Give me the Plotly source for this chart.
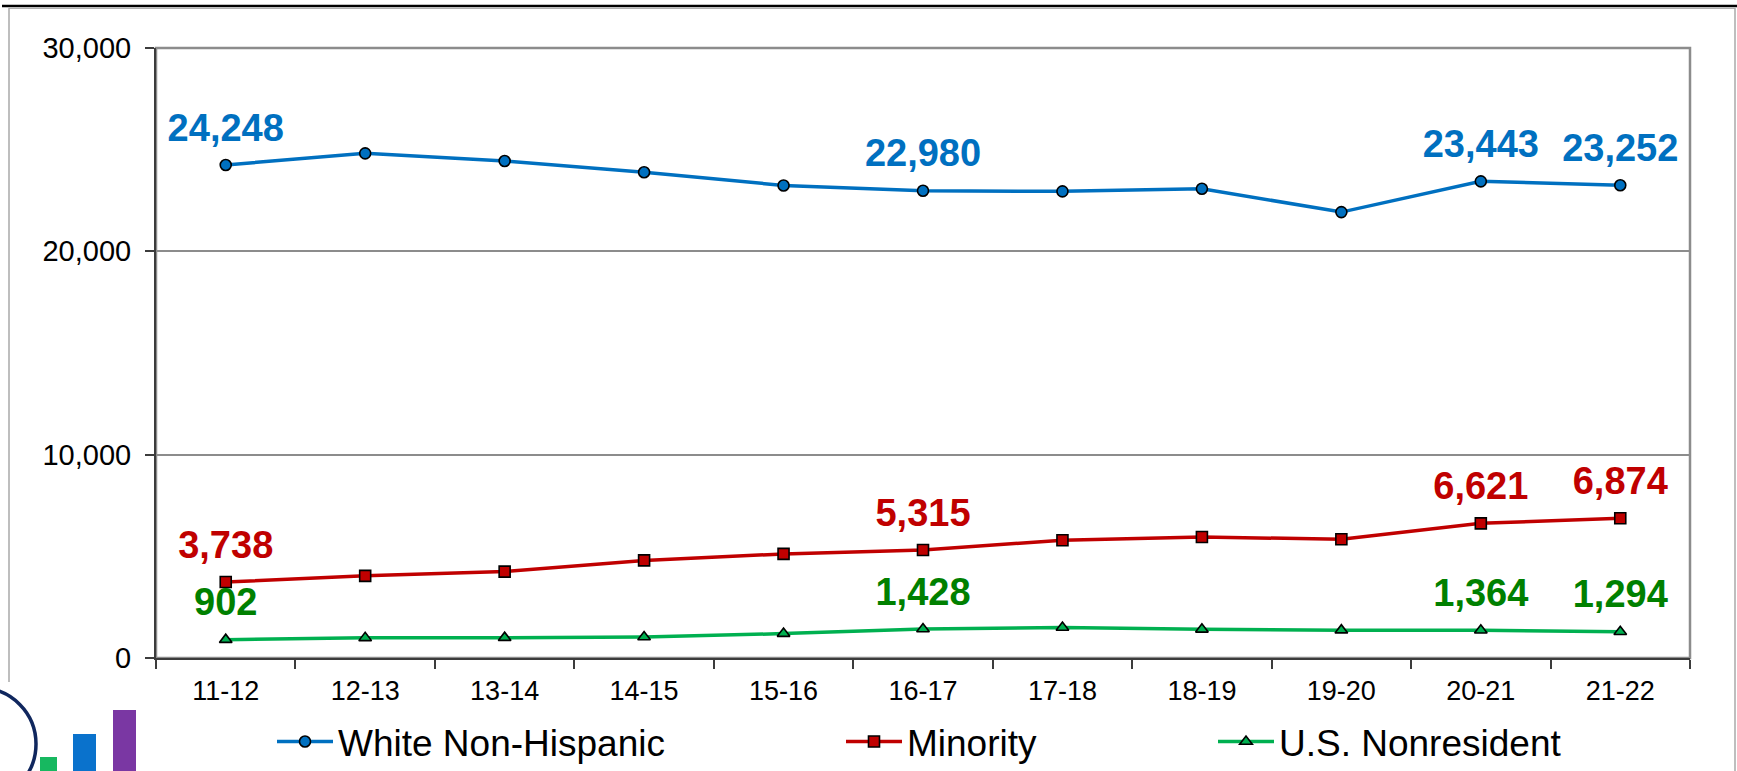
import plotly.graph_objects as go

# ---------------- data ----------------
years = ["11-12", "12-13", "13-14", "14-15", "15-16", "16-17",
         "17-18", "18-19", "19-20", "20-21", "21-22"]
white = [24248, 24820, 24440, 23890, 23240, 22980, 22950, 23080, 21930, 23443, 23252]
minority = [3738, 4040, 4250, 4800, 5120, 5315, 5790, 5950, 5840, 6621, 6874]
nonres = [902, 990, 1000, 1030, 1200, 1428, 1500, 1410, 1370, 1364, 1294]
labelled = [0, 5, 9, 10]  # indices that carry a value label
y_ticks = [0, 10000, 20000, 30000]

# ---------------- geometry helpers ----------------
W, H = 1737, 771
L, R, T, B = 156, 1690, 48, 658


def px(x):
    return (x - L) / (R - L)


def py(y):
    return (B - y) / (B - T)


FONT = "Liberation Sans, Arial, sans-serif"
BLUE, RED, GREEN_L, GREEN_T = "#0070C0", "#C00000", "#00B050", "#008000"

fig = go.Figure()

series = [
    ("White Non-Hispanic", white, BLUE, BLUE, "circle", 11, "legend"),
    ("Minority", minority, RED, RED, "square", 11, "legend2"),
    ("U.S. Nonresident", nonres, GREEN_L, GREEN_T, "triangle-up", 11, "legend3"),
]

for name, vals, lc, tc, sym, ms, lg in series:
    fig.add_trace(go.Scatter(
        x=years, y=vals, name=name, mode="lines+markers",
        line=dict(color=lc, width=3.5),
        marker=dict(symbol=sym, size=ms, color=lc, line=dict(color="black", width=1.6)),
        legend=lg, showlegend=True, hoverinfo="skip",
    ))
    txt = [f"{v:,}" if i in labelled else "" for i, v in enumerate(vals)]
    fig.add_trace(go.Scatter(
        x=years, y=vals, mode="markers+text", text=txt,
        textposition="top center",
        textfont=dict(family=FONT, size=38, color=tc, weight="bold"),
        marker=dict(size=22, color="rgba(0,0,0,0)"),
        showlegend=False, hoverinfo="skip",
    ))

shapes = [
    # plot-area frame (grey)
    dict(type="rect", xref="paper", yref="paper", x0=0, x1=1, y0=0, y1=1,
         line=dict(color="#8c8c8c", width=2.5), layer="below"),
    # outer picture frame
    dict(type="line", xref="paper", yref="paper", x0=px(2), x1=px(1737), y0=py(6), y1=py(6),
         line=dict(color="black", width=2.5)),
    dict(type="line", xref="paper", yref="paper", x0=px(9), x1=px(1735), y0=py(8.5), y1=py(8.5),
         line=dict(color="#b0b0b0", width=1.2)),
    dict(type="line", xref="paper", yref="paper", x0=px(9), x1=px(9), y0=py(8), y1=py(682),
         line=dict(color="#a8a8a8", width=1.5)),
    dict(type="line", xref="paper", yref="paper", x0=px(1735), x1=px(1735), y0=py(8), y1=py(771),
         line=dict(color="#a8a8a8", width=1.5)),
    # logo fragment bottom-left
    dict(type="circle", xref="paper", yref="paper", x0=px(-75), x1=px(36), y0=py(800), y1=py(688),
         line=dict(color="#10275e", width=3.5)),
    dict(type="rect", xref="paper", yref="paper", x0=px(40), x1=px(57), y0=py(772), y1=py(757),
         line=dict(width=0), fillcolor="#17b860"),
    dict(type="rect", xref="paper", yref="paper", x0=px(73), x1=px(96), y0=py(772), y1=py(734),
         line=dict(width=0), fillcolor="#0a72cc"),
    dict(type="rect", xref="paper", yref="paper", x0=px(113), x1=px(136), y0=py(772), y1=py(710),
         line=dict(width=0), fillcolor="#7a37a3"),
]

legend_common = dict(orientation="h", yanchor="middle", xanchor="left",
                     font=dict(family=FONT, size=37, color="black"),
                     bgcolor="rgba(0,0,0,0)", itemwidth=56)

fig.update_layout(
    width=W, height=H,
    margin=dict(l=L, r=W - R, t=T, b=H - B, autoexpand=False),
    paper_bgcolor="white", plot_bgcolor="white",
    font=dict(family=FONT, color="black"),
    shapes=shapes,
    legend=dict(x=px(272), y=py(742), **legend_common),
    legend2=dict(x=px(841), y=py(742), **legend_common),
    legend3=dict(x=px(1213), y=py(742), **legend_common),
    xaxis=dict(type="category", categoryorder="array", categoryarray=years,
               range=[-0.5, len(years) - 0.5],
               showline=True, linecolor="#3c3c3c", linewidth=2,
               ticks="outside", tickson="boundaries", ticklen=9, tickwidth=1.5, tickcolor="#3c3c3c",
               ticklabelstandoff=8,
               tickfont=dict(family=FONT, size=27, color="black"),
               showgrid=False, zeroline=False),
    yaxis=dict(range=[0, 30000], tickvals=y_ticks, tickformat=",",
               showline=True, linecolor="#3c3c3c", linewidth=2,
               ticks="outside", ticklen=9, tickwidth=1.5, tickcolor="#3c3c3c",
               ticklabelstandoff=8,
               tickfont=dict(family=FONT, size=29, color="black"),
               showgrid=True, gridcolor="#8c8c8c", gridwidth=1.5, zeroline=False),
)

fig.write_html("out.html", config={"displayModeBar": False},
               post_script="document.body.style.margin='0';")
